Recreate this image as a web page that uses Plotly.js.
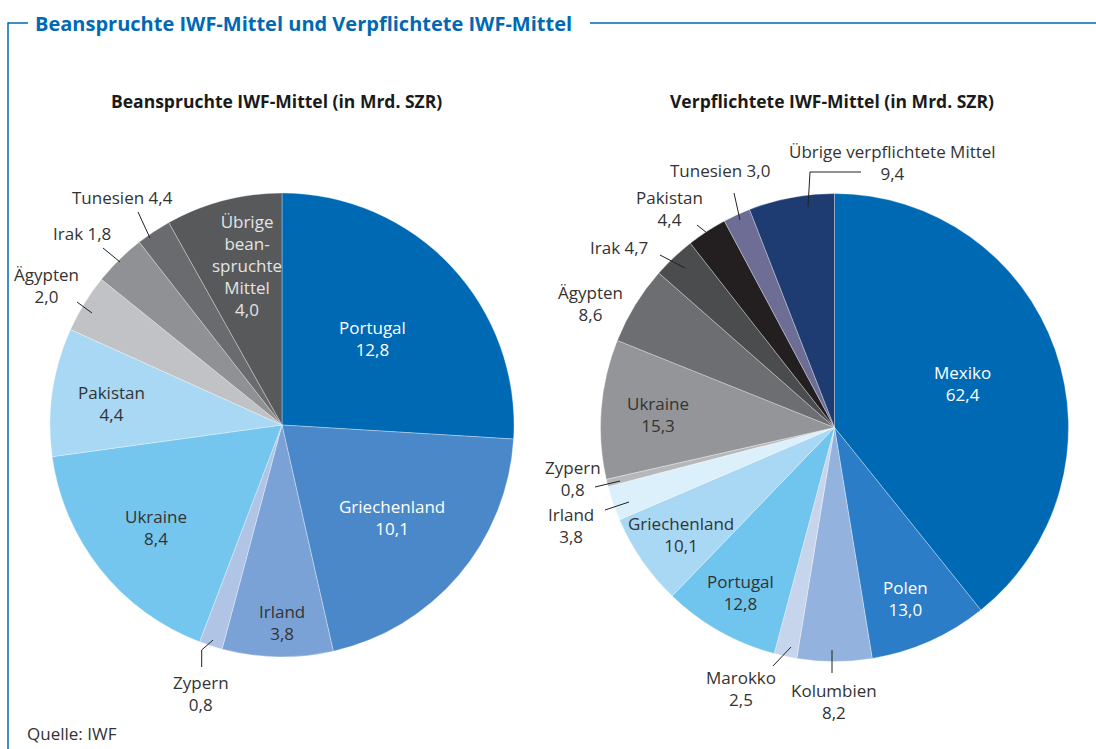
<!DOCTYPE html>
<html>
<head>
<meta charset="utf-8">
<script src="https://cdn.plot.ly/plotly-3.0.1.min.js"></script>
<style>html,body{margin:0;padding:0;background:#fff;}#chart{width:1096px;height:749px;}</style>
</head>
<body>
<div id="chart"></div>
<script>
// ---- Data (left pie: Beanspruchte IWF-Mittel) ----
const leftCategories = ["Portugal","Griechenland","Irland","Zypern","Ukraine","Pakistan","Ägypten","Irak","Tunesien","Übrige beanspruchte Mittel"];
// slice sizes as drawn in the picture (Tunesien's slice is visibly ~1.2 although labelled 4,4)
const leftValues = [12.8, 10.1, 3.8, 0.8, 8.4, 4.4, 2.0, 1.8, 1.2, 4.0];
const leftValueLabels = ["12,8","10,1","3,8","0,8","8,4","4,4","2,0","1,8","4,4","4,0"];
const leftColors = ["#0069b4","#4a88c9","#7aa2d6","#b0c4e6","#74c6ef","#a8d8f4","#c1c2c5","#909194","#6a6b6e","#58595b"];

// ---- Data (right pie: Verpflichtete IWF-Mittel) ----
const rightCategories = ["Mexiko","Polen","Kolumbien","Marokko","Portugal","Griechenland","Irland","Zypern","Ukraine","Ägypten","Irak","Pakistan","Tunesien","Übrige verpflichtete Mittel"];
const rightValues = [62.4, 13.0, 8.2, 2.5, 12.8, 10.1, 3.8, 0.8, 15.3, 8.6, 4.7, 4.4, 3.0, 9.4];
const rightValueLabels = ["62,4","13,0","8,2","2,5","12,8","10,1","3,8","0,8","15,3","8,6","4,7","4,4","3,0","9,4"];
const rightColors = ["#0069b4","#2a7dc6","#93b2dd","#c6d4ec","#6fc5ee","#a9d8f4","#dbf0fb","#b6b7b9","#949598","#6d6e71","#4b4c4e","#231f20","#6d6d95","#1e3c72"];

const W = 1096, H = 749;
const px = x => x / W, py = y => 1 - y / H;
const FONT = "Open Sans, Noto Sans, sans-serif";
const DARK = "#333333";
const LS = 17;

const traces = [
  {
    type: "pie", labels: leftCategories, values: leftValues, sort: false,
    direction: "clockwise", rotation: 0, textinfo: "none", hoverinfo: "label+value",
    marker: {colors: leftColors, line: {color: "rgba(255,255,255,0.45)", width: 0.7}},
    domain: {x: [px(50), px(514)], y: [py(657), py(193)]}, showlegend: false
  },
  {
    type: "pie", labels: rightCategories, values: rightValues, sort: false,
    direction: "clockwise", rotation: 0, textinfo: "none", hoverinfo: "label+value",
    marker: {colors: rightColors, line: {color: "rgba(255,255,255,0.45)", width: 0.7}},
    domain: {x: [px(600.5), px(1068.5)], y: [py(661.5), py(193.5)]}, showlegend: false
  }
];

function lab(text, x, y, color, size) {
  return {text: text, x: px(x), y: py(y), xref: "paper", yref: "paper", showarrow: false,
    xanchor: "center", yanchor: "middle", align: "center",
    font: {family: FONT, size: size || LS, color: color || DARK}};
}
const L = (i, name) => name + "<br>" + leftValueLabels[i];
const R = (i, name) => name + "<br>" + rightValueLabels[i];

const annotations = [
  {text: "<b>Beanspruchte IWF-Mittel und Verpflichtete IWF-Mittel</b>", x: px(33), y: py(23), xref: "paper", yref: "paper",
   xanchor: "left", yanchor: "middle", showarrow: false, font: {family: FONT, size: 20, color: "#0069b4"}},
  {text: "<b>Beanspruchte IWF-Mittel (in Mrd. SZR)</b>", x: px(276), y: py(101), xref: "paper", yref: "paper",
   xanchor: "center", yanchor: "middle", showarrow: false, font: {family: FONT, size: 17.5, color: "#1a1a1a"}},
  {text: "<b>Verpflichtete IWF-Mittel (in Mrd. SZR)</b>", x: px(832), y: py(101), xref: "paper", yref: "paper",
   xanchor: "center", yanchor: "middle", showarrow: false, font: {family: FONT, size: 17.5, color: "#1a1a1a"}},
  {text: "Quelle: IWF", x: px(25), y: py(733), xref: "paper", yref: "paper",
   xanchor: "left", yanchor: "middle", showarrow: false, font: {family: FONT, size: 17, color: DARK}},

  // left pie labels
  lab(L(0, "Portugal"), 372, 338, "#ffffff"),
  lab(L(1, "Griechenland"), 392, 517, "#ffffff"),
  lab(L(2, "Irland"), 282, 622, DARK),
  lab(L(3, "Zypern"), 201, 693, DARK),
  lab(L(4, "Ukraine"), 156, 527, DARK),
  lab(L(5, "Pakistan"), 111, 403, DARK),
  lab(L(6, "Ägypten"), 46, 285, DARK),
  lab(leftCategories[7] + " " + leftValueLabels[7], 82, 234, DARK),
  lab(leftCategories[8] + " " + leftValueLabels[8], 122, 197, DARK),
  lab("Übrige<br>bean-<br>spruchte<br>Mittel<br>" + leftValueLabels[9], 247, 265, "#e4e4e4"),

  // right pie labels
  lab(R(0, "Mexiko"), 962, 383, "#ffffff"),
  lab(R(1, "Polen"), 905, 598, "#ffffff"),
  lab(R(2, "Kolumbien"), 834, 701, DARK),
  lab(R(3, "Marokko"), 741, 688, DARK),
  lab(R(4, "Portugal"), 740, 592, DARK),
  lab(R(5, "Griechenland"), 681, 534, DARK),
  lab(R(6, "Irland"), 571, 525, DARK),
  lab(R(7, "Zypern"), 573, 478, DARK),
  lab(R(8, "Ukraine"), 658, 414, DARK),
  lab(R(9, "Ägypten"), 590, 303, DARK),
  lab(rightCategories[10] + " " + rightValueLabels[10], 619, 248, DARK),
  lab(R(11, "Pakistan"), 669, 208, DARK),
  lab(rightCategories[12] + " " + rightValueLabels[12], 720, 171, DARK),
  lab("Übrige verpflichtete Mittel<br>" + rightValueLabels[13], 892, 162, DARK)
];

function seg(x0, y0, x1, y1, color, width) {
  return {type: "line", xref: "paper", yref: "paper", x0: px(x0), y0: py(y0), x1: px(x1), y1: py(y1),
    line: {color: color || "#222222", width: width || 1}};
}
const BLUE = "#0069b4";
const shapes = [
  // frame
  seg(8, 23, 28, 23, BLUE, 1.5),
  seg(590, 23, 1096, 23, BLUE, 1.5),
  seg(8, 22.3, 8, 749, BLUE, 1.5),
  // left leaders
  seg(213, 640, 201.7, 650), seg(201.7, 650, 201.7, 667),
  seg(77, 302, 92, 313),
  seg(103, 248, 120, 262),
  seg(138, 212, 150, 238),
  // right leaders
  seg(832, 650, 832, 673),
  seg(791, 647, 773, 666),
  seg(605, 510, 629, 502),
  seg(595, 487, 620, 481),
  seg(660, 255, 685, 268),
  seg(697, 225, 707, 233),
  seg(734, 193, 740, 220),
  seg(861, 172, 810, 172), seg(810, 172, 808, 207)
];

const layout = {
  width: W, height: H, margin: {l: 0, r: 0, t: 0, b: 0},
  paper_bgcolor: "#ffffff", plot_bgcolor: "#ffffff",
  showlegend: false, annotations: annotations, shapes: shapes,
  font: {family: FONT, color: DARK}
};
Plotly.newPlot("chart", traces, layout, {displayModeBar: false, staticPlot: true});
</script>
</body>
</html>
